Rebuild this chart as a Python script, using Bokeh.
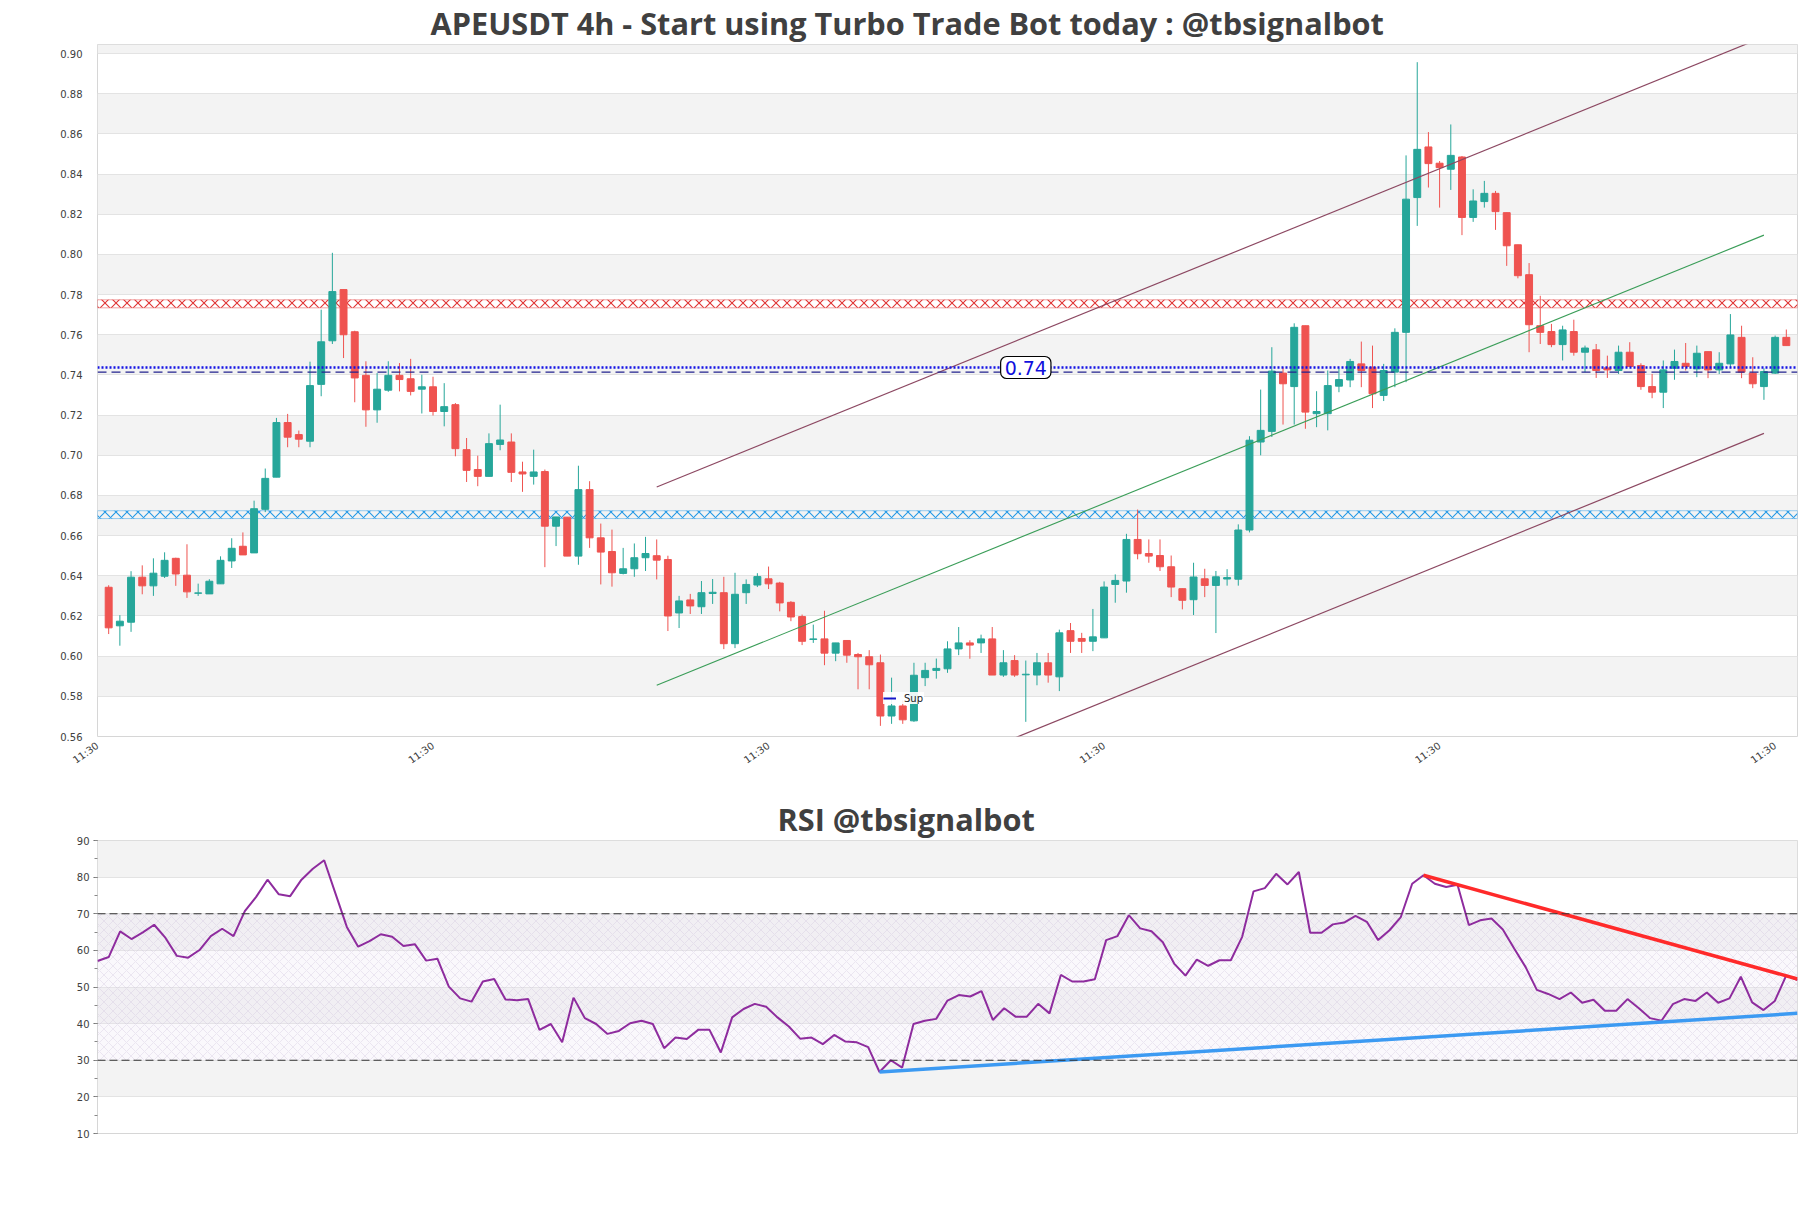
import numpy as np
from bokeh.plotting import figure
from bokeh.models import (Range1d, SingleIntervalTicker, FixedTicker, NumeralTickFormatter,
                          BoxAnnotation, Span, Label, Legend, LegendItem, ColumnDataSource, Title)
from bokeh.layouts import column
from bokeh.embed import file_html
from bokeh.resources import INLINE

# ---------------- data ----------------
title_main = "APEUSDT 4h - Start using Turbo Trade Bot today : @tbsignalbot"
title_rsi = "RSI @tbsignalbot"

opens = [
    .6343, .6151, .6169, .6393, .6350, .6398, .6487, .6403, .6313, .6310,
    .6360, .6474, .6547, .6514, .6731, .6891, .7163, .7103, .7070, .7353,
    .7570, .7825, .7615, .7398, .7226, .7324, .7398, .7381, .7329, .7341,
    .7218, .7252, .7028, .6929, .6895, .7054, .7066, .6917, .6895, .6919,
    .6647, .6692, .6498, .6829, .6589, .6521, .6412, .6435, .6490, .6500,
    .6481, .6215, .6280, .6246, .6312, .6316, .6062, .6316, .6354, .6385,
    .6364, .6268, .6197, .6083, .6086, .6015, .6078, .6008, .5997, .5967,
    .5702, .5752, .5678, .5893, .5929, .5937, .6036, .6066, .6066, .6086,
    .5906, .5978, .5907, .5906, .5967, .5897, .6127, .6088, .6074, .6091,
    .6357, .6374, .6581, .6511, .6501, .6445, .6336, .6281, .6385, .6352,
    .6384, .6383, .6628, .7066, .7119, .7409, .7342, .7645, .7207, .7207,
    .7344, .7375, .7455, .7438, .7298, .7414, .7612, .8283, .8535, .8454,
    .8424, .8485, .8184, .8263, .8304, .8208, .8048, .7899, .7645, .7616,
    .7551, .7616, .7513, .7525, .7435, .7422, .7513, .7447, .7342, .7314,
    .7433, .7458, .7430, .7516, .7425, .7455, .7587, .7409, .7342, .7409,
    .7587]
highs = [
    .6353, .6204, .6423, .6452, .6487, .6517, .6490, .6557, .6361, .6383,
    .6497, .6587, .6616, .6774, .6934, .7186, .7206, .7123, .7466, .7725,
    .8008, .7825, .7620, .7468, .7409, .7468, .7459, .7480, .7401, .7391,
    .7359, .7260, .7086, .6998, .7109, .7252, .7109, .6968, .7028, .6929,
    .6693, .6692, .6948, .6871, .6660, .6630, .6539, .6561, .6594, .6581,
    .6500, .6300, .6310, .6374, .6384, .6395, .6415, .6382, .6413, .6446,
    .6370, .6274, .6207, .6157, .6226, .6066, .6078, .6016, .6030, .6008,
    .5893, .5780, .5967, .5967, .5988, .6074, .6145, .6079, .6107, .6145,
    .6030, .6005, .5978, .6016, .6016, .6132, .6165, .6116, .6235, .6372,
    .6407, .6609, .6730, .6581, .6581, .6501, .6336, .6465, .6435, .6424,
    .6433, .6656, .7095, .7327, .7538, .7438, .7657, .7645, .7319, .7422,
    .7433, .7480, .7566, .7546, .7455, .7632, .8493, .8957, .8609, .8465,
    .8647, .8490, .8324, .8366, .8316, .8208, .8048, .7957, .7794, .7654,
    .7645, .7675, .7546, .7554, .7496, .7546, .7563, .7458, .7405, .7472,
    .7526, .7559, .7546, .7516, .7513, .7703, .7645, .7488, .7433, .7596,
    .7626]
lows = [
    .6110, .6052, .6121, .6308, .6300, .6389, .6350, .6290, .6300, .6310,
    .6360, .6439, .6504, .6514, .6717, .6891, .7040, .7040, .7040, .7294,
    .7554, .7484, .7264, .7142, .7162, .7316, .7318, .7298, .7208, .7198,
    .7144, .6995, .6867, .6846, .6895, .7025, .6867, .6818, .6854, .6443,
    .6548, .6498, .6455, .6539, .6357, .6346, .6407, .6395, .6424, .6382,
    .6125, .6140, .6210, .6210, .6260, .6035, .6040, .6260, .6344, .6334,
    .6223, .6174, .6055, .6066, .5955, .5975, .5967, .5835, .5835, .5653,
    .5663, .5663, .5673, .5851, .5888, .5917, .6005, .5987, .6016, .5906,
    .5897, .5897, .5673, .5855, .5868, .5826, .6016, .6016, .6025, .6091,
    .6266, .6316, .6482, .6465, .6424, .6294, .6233, .6205, .6294, .6115,
    .6351, .6351, .6616, .7000, .7091, .7153, .7153, .7132, .7140, .7124,
    .7314, .7339, .7339, .7235, .7270, .7339, .7364, .8142, .8333, .8233,
    .8321, .8096, .8162, .8233, .8122, .7943, .7881, .7513, .7554, .7538,
    .7472, .7496, .7414, .7385, .7385, .7405, .7442, .7326, .7284, .7235,
    .7376, .7422, .7389, .7384, .7405, .7438, .7384, .7334, .7276, .7405,
    .7546]
closes = [
    .6141, .6174, .6393, .6350, .6413, .6477, .6409, .6320, .6315, .6373,
    .6477, .6537, .6504, .6734, .6885, .7163, .7090, .7080, .7347, .7565,
    .7815, .7600, .7385, .7226, .7329, .7398, .7377, .7318, .7341, .7218,
    .7242, .7033, .6925, .6895, .7058, .7076, .6915, .6907, .6917, .6647,
    .6693, .6498, .6829, .6589, .6518, .6415, .6435, .6490, .6511, .6478,
    .6200, .6275, .6250, .6316, .6318, .6062, .6308, .6357, .6396, .6360,
    .6265, .6195, .6074, .6086, .6015, .6066, .6005, .5997, .5957, .5702,
    .5752, .5683, .5905, .5929, .5939, .6036, .6066, .6055, .6086, .5906,
    .5967, .5906, .5910, .5967, .5906, .6116, .6074, .6074, .6096, .6344,
    .6377, .6581, .6510, .6498, .6445, .6344, .6278, .6394, .6352, .6395,
    .6391, .6628, .7075, .7124, .7419, .7356, .7637, .7215, .7218, .7347,
    .7377, .7467, .7422, .7306, .7422, .7612, .8275, .8523, .8452, .8432,
    .8493, .8184, .8266, .8304, .8213, .8043, .7894, .7650, .7612, .7551,
    .7624, .7513, .7534, .7422, .7425, .7513, .7442, .7342, .7314, .7425,
    .7467, .7442, .7508, .7425, .7458, .7599, .7414, .7356, .7417, .7587,
    .7546]
rsi = [
    57.1, 58.2, 65.2, 63.1, 64.9, 67.0, 63.4, 58.5, 58.0, 60.1,
    63.9, 65.9, 63.9, 70.7, 74.6, 79.3, 75.3, 74.8, 79.3, 82.3,
    84.6, 75.5, 66.4, 61.0, 62.5, 64.4, 63.7, 61.2, 61.7, 57.2,
    57.7, 50.1, 46.9, 46.0, 51.5, 52.2, 46.6, 46.4, 46.7, 38.3,
    39.9, 34.9, 47.1, 41.5, 39.9, 37.2, 38.0, 40.1, 40.8, 39.9,
    33.3, 36.2, 35.8, 38.3, 38.3, 32.1, 41.7, 44.0, 45.4, 44.6,
    41.7, 39.2, 35.9, 36.2, 34.4, 36.9, 35.1, 34.9, 33.6, 26.8,
    30.0, 28.0, 39.9, 40.8, 41.3, 46.3, 47.8, 47.4, 48.9, 41.0,
    44.2, 41.9, 41.9, 45.4, 42.8, 53.3, 51.5, 51.5, 52.1, 62.8,
    63.9, 69.6, 66.0, 65.2, 62.2, 56.4, 53.1, 57.5, 55.8, 57.3,
    57.3, 63.7, 76.1, 77.0, 80.9, 78.0, 81.4, 64.8, 64.8, 67.1,
    67.6, 69.4, 67.8, 62.8, 65.5, 69.1, 78.2, 80.5, 78.2, 77.3,
    77.9, 66.9, 68.2, 68.7, 65.7, 60.5, 55.5, 49.2, 48.1, 46.7,
    48.5, 45.7, 46.5, 43.5, 43.5, 46.7, 44.2, 41.5, 40.8, 45.3,
    46.7, 46.2, 48.5, 45.7, 46.9, 52.8, 45.8, 43.7, 46.2, 53.1,
    51.9]

x_tick_labels = ["11:30", "11:30", "11:30", "11:30", "11:30", "11:30"]
x_tick_first = -1          # candle index of the first "11:30" tick
x_tick_step = 30           # candles between ticks (5 days of 4h candles)

resistance_zone = [0.7734, 0.7774]
support_zone = [0.6685, 0.6724]
sup_levels = [0.7437, 0.7414]          # dotted, dashed

channel_x = [49, 148]
channel_mid = [0.5855, 0.8096]
channel_half = 0.0987
channel_lower_start = 67

rsi_levels = [30, 70]
rsi_support_x = [69, 150]
rsi_support_y = [26.8, 42.8]
rsi_resist_x = [117, 150]
rsi_resist_y = [80.5, 52.2]

# ---------------- styles ----------------
UP = "#26a69a"
DOWN = "#ef5350"
TXT = "#404040"
GRID = "#e3e3e3"
BAND = "#f3f3f3"
OUTLINE = "#d6d6d6"

o = np.array(opens); h = np.array(highs); l = np.array(lows); c = np.array(closes)
idx = np.arange(len(c))
colors = [UP if cc >= oo else DOWN for oo, cc in zip(o, c)]
src = ColumnDataSource(dict(x=idx, h=h, l=l, top=np.maximum(o, c), bottom=np.minimum(o, c), color=colors))

W = 1803
FL, FR = 97, 6           # frame borders left / right


def make_title(text, offset):
    return Title(text=text, align="left", offset=offset, vertical_align="middle",
                 text_font="Open Sans", text_font_style="bold", text_font_size="30.7px",
                 text_color=TXT, standoff=0)


# ================= main chart =================
p1 = figure(width=W, height=790, x_range=Range1d(-1, len(c)), y_range=Range1d(0.56, 0.9045),
            output_backend="svg", toolbar_location=None,
            min_border_left=FL, min_border_right=FR, min_border_top=43, min_border_bottom=54)
p1.title = make_title(title_main, 333)
p1.background_fill_color = "white"
p1.border_fill_color = "white"
p1.outline_line_color = OUTLINE
p1.xgrid.visible = False
p1.ygrid.grid_line_color = GRID
p1.ygrid.band_fill_color = BAND
p1.ygrid.band_fill_alpha = 1.0

p1.yaxis.ticker = SingleIntervalTicker(interval=0.02, num_minor_ticks=0)
p1.yaxis.formatter = NumeralTickFormatter(format="0.00")
p1.yaxis.axis_line_color = None
p1.yaxis.major_tick_line_color = None
p1.yaxis.minor_tick_line_color = None
p1.yaxis.major_label_text_font = "DejaVu Sans"
p1.yaxis.major_label_text_font_size = "10px"
p1.yaxis.major_label_text_color = TXT
p1.yaxis.major_label_standoff = 9

tick_pos = [x_tick_first + x_tick_step * k for k in range(len(x_tick_labels))]
p1.xaxis.ticker = FixedTicker(ticks=tick_pos)
p1.xaxis.major_label_overrides = {t: lab for t, lab in zip(tick_pos, x_tick_labels)}
p1.xaxis.major_label_orientation = 0.62
p1.xaxis.axis_line_color = None
p1.xaxis.major_tick_line_color = None
p1.xaxis.minor_tick_line_color = None
p1.xaxis.major_label_text_font = "DejaVu Sans"
p1.xaxis.major_label_text_font_size = "10px"
p1.xaxis.major_label_text_color = TXT
p1.xaxis.major_label_standoff = 2

# hatched zones
for (zb, zt), col in ((resistance_zone, "#e03333"), (support_zone, "#2399e6")):
    p1.add_layout(BoxAnnotation(bottom=zb, top=zt, fill_alpha=0, line_color=col, line_alpha=0.45,
                                line_width=1, hatch_pattern="x", hatch_color=col, hatch_alpha=1.0,
                                hatch_scale=11, hatch_weight=1.1, level="underlay"))

# candles
p1.segment(x0="x", y0="h", x1="x", y1="l", line_color="color", line_width=1, source=src)
p1.vbar(x="x", width=0.62, top="top", bottom="bottom", fill_color="color", line_color="color",
        line_width=1, source=src)

# support levels
p1.add_layout(Span(location=sup_levels[0], dimension="width", line_color="#1414e6",
                   line_width=2.4, line_dash="2 2"))
p1.add_layout(Span(location=sup_levels[1], dimension="width", line_color="#23238f",
                   line_width=1.3, line_dash="9 5"))

# channel
slope = (channel_mid[1] - channel_mid[0]) / (channel_x[1] - channel_x[0])
up_y = [v + channel_half for v in channel_mid]
p1.line(channel_x, up_y, line_color="#8c4862", line_width=1.2)
p1.line(channel_x, channel_mid, line_color="#3a9d58", line_width=1.1)
lo_start = channel_mid[0] + slope * (channel_lower_start - channel_x[0]) - channel_half
p1.line([channel_lower_start, channel_x[1]], [lo_start, channel_mid[1] - channel_half],
        line_color="#8c4862", line_width=1.2)

# level label
p1.add_layout(Label(x=82.0, y=sup_levels[0], text=f"{sup_levels[0]:.2f}", text_align="center",
                    text_baseline="middle", text_font="DejaVu Sans", text_font_size="19px",
                    text_color="#1010dd", background_fill_color="white", border_line_color="black",
                    border_line_width=1.2, padding=4, border_radius=6))

# legend
proxy = p1.line(x=[0, 1], y=[np.nan, np.nan], line_color="#1515c8", line_width=2)
leg = Legend(items=[LegendItem(label="Sup", renderers=[proxy])], location=(786, 32),
             label_text_font="DejaVu Sans", label_text_font_size="10px", label_text_color="#222222",
             glyph_width=13, glyph_height=12, label_standoff=8, padding=4, spacing=0, margin=0,
             background_fill_color="white", background_fill_alpha=0.9, border_line_color=None,
             label_height=12)
p1.add_layout(leg)

# ================= RSI chart =================
p2 = figure(width=W, height=368, x_range=Range1d(0, len(rsi) - 1), y_range=Range1d(10, 90),
            output_backend="svg", toolbar_location=None,
            min_border_left=FL, min_border_right=FR, min_border_top=50, min_border_bottom=25)
p2.title = make_title(title_rsi, 680)
p2.background_fill_color = "white"
p2.border_fill_color = "white"
p2.outline_line_color = OUTLINE
p2.xgrid.visible = False
p2.xaxis.visible = False
p2.ygrid.grid_line_color = GRID
p2.ygrid.band_fill_color = BAND
p2.ygrid.band_fill_alpha = 1.0
p2.yaxis.ticker = SingleIntervalTicker(interval=10, num_minor_ticks=2)
p2.yaxis.axis_line_color = None
p2.yaxis.major_tick_out = 4
p2.yaxis.major_tick_in = 0
p2.yaxis.minor_tick_out = 3
p2.yaxis.minor_tick_in = 0
p2.yaxis.major_tick_line_color = "#666666"
p2.yaxis.minor_tick_line_color = "#888888"
p2.yaxis.major_label_text_font = "DejaVu Sans"
p2.yaxis.major_label_text_font_size = "10px"
p2.yaxis.major_label_text_color = TXT
p2.yaxis.major_label_standoff = 4

p2.add_layout(BoxAnnotation(bottom=rsi_levels[0], top=rsi_levels[1], fill_color="#ece4f4",
                            fill_alpha=0.25, line_color=None, hatch_pattern="x",
                            hatch_color="#cbbfd9", hatch_alpha=0.55, hatch_scale=9,
                            hatch_weight=0.6, level="underlay"))
for lv in rsi_levels:
    p2.add_layout(Span(location=lv, dimension="width", line_color="#333333", line_width=1.2,
                       line_dash="8 4"))

p2.line(idx, rsi, line_color="#8e2c9e", line_width=2)
p2.line(rsi_support_x, rsi_support_y, line_color="#3c9af2", line_width=3.5)
p2.line(rsi_resist_x, rsi_resist_y, line_color="#ff2a2a", line_width=3.5)

layout = column(p1, p2, spacing=0)
open("out.html", "w").write(file_html(layout, INLINE))
